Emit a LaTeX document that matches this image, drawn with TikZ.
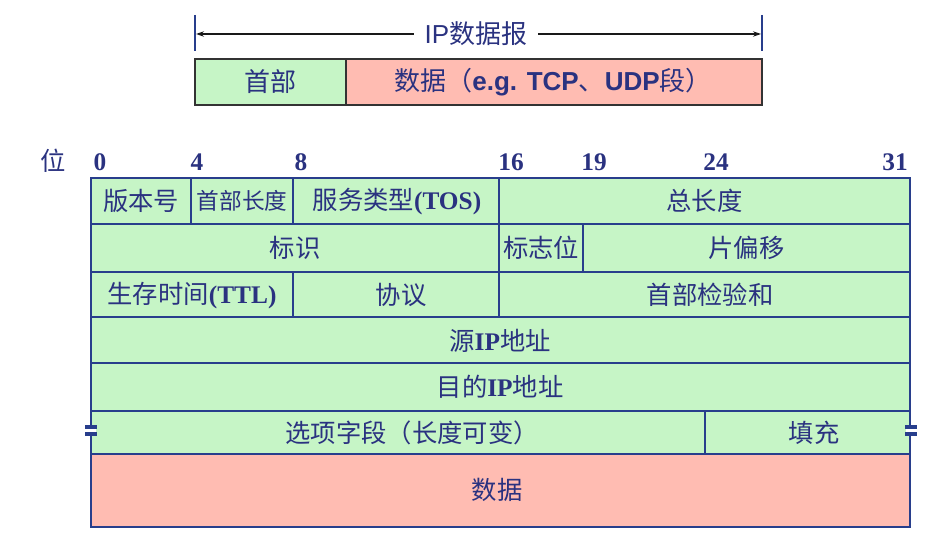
\documentclass[tikz,border=0pt]{standalone}
\usepackage{fontspec}
\setmainfont{Liberation Serif}
\newfontfamily\cjk{Noto Sans CJK SC}
\newfontfamily\arial{Liberation Sans}
\usetikzlibrary{arrows.meta}
\definecolor{hdrgreen}{RGB}{198,245,198}
\definecolor{datapink}{RGB}{255,188,178}
\definecolor{lineblue}{RGB}{40,62,140}
\definecolor{textblue}{RGB}{42,50,128}
\newcommand{\zh}[1]{{\cjk #1}}
\newcommand{\en}[1]{\textbf{#1}}

\begin{document}
\begin{tikzpicture}[
        x=0.75pt, y=-0.75pt,
        greencell/.style={fill=hdrgreen, draw=lineblue, line width=1.2pt},
        pinkcell/.style={fill=datapink, draw=lineblue, line width=1.2pt},
        topgreen/.style={fill=hdrgreen, draw=black!80, line width=1pt},
        toppink/.style={fill=datapink, draw=black!80, line width=1pt},
        label/.style={text=textblue, font=\fontsize{19}{21}\selectfont, inner sep=0pt},
        smalllabel/.style={label, font=\fontsize{17}{19}\selectfont},
        toplabel/.style={text=textblue, font=\arial\fontsize{19.5}{21}\selectfont, inner sep=0pt},
        bitnum/.style={text=textblue, font=\bfseries\fontsize{19}{21}\selectfont, inner sep=0pt},
        brk/.style={line width=2.4pt, lineblue},
    ]
    \useasboundingbox (0,0) rectangle (937,549);

    % ===== IP datagram overview =====
    \draw[lineblue, line width=0.9pt] (195,15) -- (195,51);
    \draw[lineblue, line width=0.9pt] (762,15) -- (762,51);
    \coordinate (AL) at (196,34);
    \coordinate (AR) at (761,34);
    \node[toplabel, fill=white, inner xsep=8pt] (dgram) at (476,34) {IP\zh{数据报}};
    \draw[-{Stealth[length=6pt, width=4pt]}, black!90, line width=1pt] (dgram.west) -- (AL);
    \draw[-{Stealth[length=6pt, width=4pt]}, black!90, line width=1pt] (dgram.east) -- (AR);

    \draw[topgreen] (195,59) rectangle (346,105);
    \draw[toppink] (346,59) rectangle (762,105);
    \node[toplabel] (tophdr) at (270.5,82) {\zh{首部}};
    \node[toplabel] (topdata) at (553,82) {\zh{数据（}\textbf{e.g. TCP}\zh{、}\textbf{UDP}\zh{段）}};

    % ===== bit positions =====
    \node[label, font=\cjk\fontsize{19}{21}\selectfont] (wei) at (53,161) {位};
    \foreach \pos/\n in {100/0, 197/4, 301/8, 511/16, 594/19, 716/24, 895/31}
        \node[bitnum] (b\n) at (\pos,162) {\n};

    % ===== header rows =====
    % row 1
    \draw[greencell] (91,178) rectangle (191,224);
    \draw[greencell] (191,178) rectangle (293,224);
    \draw[greencell] (293,178) rectangle (499,224);
    \draw[greencell] (499,178) rectangle (910,224);
    \node[label] (ver) at (141,201) {\zh{版本号}};
    \node[smalllabel] (ihl) at (242,201) {\zh{首部长度}};
    \node[label] (tos) at (397,202) {\zh{服务类型}\en{(TOS)}};
    \node[label] (totlen) at (704.5,201) {\zh{总长度}};
    % row 2
    \draw[greencell] (91,224) rectangle (499,272);
    \draw[greencell] (499,224) rectangle (583,272);
    \draw[greencell] (583,224) rectangle (910,272);
    \node[label] (ident) at (295,248) {\zh{标识}};
    \node[label] (flags) at (541,248) {\zh{标志位}};
    \node[label] (frag) at (746.5,248) {\zh{片偏移}};
    % row 3
    \draw[greencell] (91,272) rectangle (293,317);
    \draw[greencell] (293,272) rectangle (499,317);
    \draw[greencell] (499,272) rectangle (910,317);
    \node[label] (ttl) at (192,296) {\zh{生存时间}\en{(TTL)}};
    \node[label] (proto) at (401,295) {\zh{协议}};
    \node[label] (chksum) at (710,295) {\zh{首部检验和}};
    % rows 4-5
    \draw[greencell] (91,317) rectangle (910,363);
    \draw[greencell] (91,363) rectangle (910,411);
    \node[label] (srcip) at (500,341) {\zh{源}\en{IP}\zh{地址}};
    \node[label] (dstip) at (500,387) {\zh{目的}\en{IP}\zh{地址}};
    % row 6: options
    \draw[greencell] (91,411) rectangle (705,454);
    \draw[greencell] (705,411) rectangle (910,454);
    \node[label] (opts) at (412,433) {\zh{选项字段（长度可变）}};
    \node[label] (pad) at (814,433) {\zh{填充}};
    % data
    \draw[pinkcell] (91,454) rectangle (910,527);
    \node[label] (data) at (497,490) {\zh{数据}};

    % break marks on the options row
    \fill[white] (86,428) rectangle (96,433);
    \fill[white] (906,428) rectangle (916,433);
    \draw[brk] (85,427) -- (97,427);
    \draw[brk] (85,434) -- (97,434);
    \draw[brk] (905,427) -- (917,427);
    \draw[brk] (905,434) -- (917,434);
\end{tikzpicture}
\end{document}
